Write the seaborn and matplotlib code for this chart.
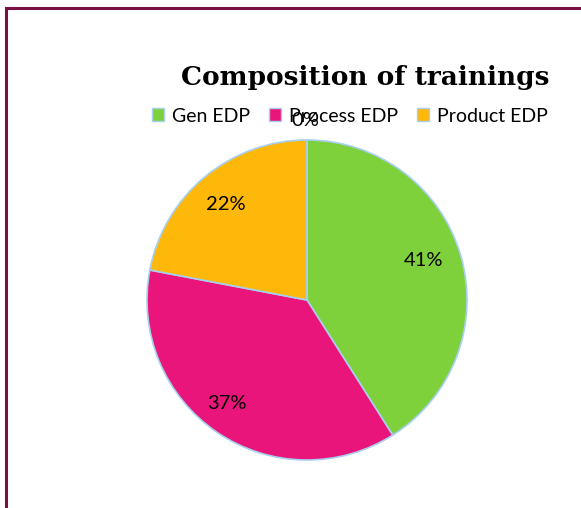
import matplotlib
matplotlib.use('Agg')
import matplotlib.pyplot as plt
import seaborn as sns
from matplotlib.patches import Patch, Rectangle

# Данные диаграммы
categories = ['Gen EDP', 'Process EDP', 'Product EDP', '']
shares = [41, 37, 22, 0]
pct_labels = ['41%', '37%', '22%', '0%']
colors = ['#7FD13B', '#EA157A', '#FEB80A', '#A6CFF0']

sns.set_theme(style='white')
plt.rcParams['font.family'] = ['Lato', 'DejaVu Sans']
plt.rcParams['text.color'] = 'black'

fig = plt.figure(figsize=(5.81, 5.08), dpi=100)
fig.patch.set_facecolor('white')

# Рамка вокруг графика (справа и снизу обрезана)
fig.patches.append(Rectangle((5.5 / 581, -0.2), 1.5, 1.2 - 8.0 / 508,
                             transform=fig.transFigure, fill=False,
                             edgecolor='#7A0F45', linewidth=2.2))

ax = fig.add_axes([147 / 581, 48 / 508, 320 / 581, 320 / 508])
wedges, _ = ax.pie(shares, colors=colors, startangle=90, counterclock=False,
                   wedgeprops={'edgecolor': '#A6CFF0', 'linewidth': 1.2})
ax.set_xlim(-1, 1)
ax.set_ylim(-1, 1)
ax.axis('off')

# Подписи процентов
label_pos = [(0.73, 0.245), (-0.50, -0.645), (-0.51, 0.60), (-0.01, 1.12)]
for (x, y), txt in zip(label_pos, pct_labels):
    ax.text(x, y, txt, ha='center', va='center', fontsize=14.5, color='black')

fig.text(365 / 581, 1 - 78 / 508, 'Composition of trainings', ha='center', va='center',
         fontsize=19, fontweight='bold', family=['DejaVu Serif'], color='black')

handles = [Patch(facecolor=c, edgecolor='#A6CFF0', linewidth=1) for c in colors[:3]]
fig.legend(handles, categories[:3], ncol=3, loc='center', bbox_to_anchor=(350 / 581, 1 - 116 / 508),
           frameon=False, fontsize=14, handlelength=0.6, handleheight=0.6,
           handletextpad=0.4, columnspacing=1.0, labelcolor='black', borderaxespad=0)

plt.savefig('out.png', dpi=100)
